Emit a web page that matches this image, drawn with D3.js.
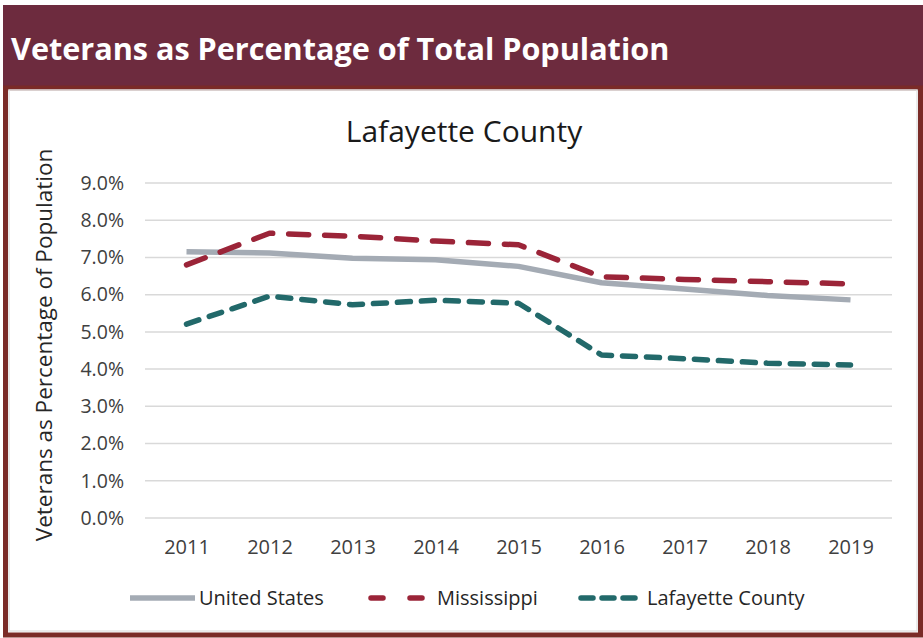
<!DOCTYPE html>
<meta charset="utf-8">
<style>
body { margin: 0; background: #fff; }
text { font-family: "Open Sans", Lato, sans-serif; }
.grid line { stroke: #d9d9d9; stroke-width: 1.5px; }
.axis text { fill: #404040; }
</style>
<svg width="923" height="638"></svg>
<script src="https://cdn.jsdelivr.net/npm/d3@7"></script>
<script>

var years = ["2011", "2012", "2013", "2014", "2015", "2016", "2017", "2018", "2019"];
var unitedStates = [7.15, 7.12, 6.98, 6.94, 6.76, 6.32, 6.15, 5.98, 5.86];
var mississippi = [6.80, 7.65, 7.57, 7.44, 7.34, 6.48, 6.41, 6.35, 6.29];
var lafayette = [5.21, 5.96, 5.73, 5.85, 5.77, 4.38, 4.28, 4.16, 4.11];
var yTicks = [0, 1, 2, 3, 4, 5, 6, 7, 8, 9];

var series = [
    {name: "United States", values: unitedStates, color: "#a4abb4", dash: null, legendX: 130},
    {name: "Mississippi", values: mississippi, color: "#9b2438", dash: "20,16", legendX: 368},
    {name: "Lafayette County", values: lafayette, color: "#22696a", dash: "13,11", legendX: 578}
];

var svg = d3.select("svg");

// banner + frame
svg.append("rect").attr("x", 3).attr("y", 5).attr("width", 920).attr("height", 83).attr("fill", "#6d2b3e");
svg.append("rect").attr("x", 5.5).attr("y", 88).attr("width", 915).attr("height", 547)
    .attr("fill", "#fff").attr("stroke", "#7a2b27").attr("stroke-width", 5);
svg.append("rect").attr("x", 9).attr("y", 90).attr("width", 908).attr("height", 541)
    .attr("fill", "none").attr("stroke", "#e4e4e4").attr("stroke-width", 1.5);

svg.append("text").attr("x", 11).attr("y", 60)
    .attr("fill", "#fff").attr("font-weight", "bold").attr("font-size", 30.6)
    .text("Veterans as Percentage of Total Population");

svg.append("text").attr("x", 464).attr("y", 142).attr("text-anchor", "middle")
    .attr("fill", "#1a1a1a").attr("font-size", 30)
    .text("Lafayette County");

var x = d3.scalePoint().domain(years).range([145, 892]).padding(0.5);
var y = d3.scaleLinear().domain([0, 9]).range([518, 183]);

svg.append("g").attr("class", "grid")
    .selectAll("line").data(yTicks).enter().append("line")
    .attr("x1", 145).attr("x2", 892)
    .attr("y1", function(d) { return y(d); })
    .attr("y2", function(d) { return y(d); });

var yAxis = svg.append("g").attr("class", "axis")
    .attr("transform", "translate(145,0)")
    .call(d3.axisLeft(y).tickValues(yTicks).tickSize(0).tickPadding(21)
        .tickFormat(function(d) { return d.toFixed(1) + "%"; }));
yAxis.select(".domain").remove();
yAxis.selectAll("text").attr("font-size", 19.5).attr("font-family", "'Open Sans', sans-serif");

var xAxis = svg.append("g").attr("class", "axis")
    .attr("transform", "translate(0,518)")
    .call(d3.axisBottom(x).tickSize(0).tickPadding(22));
xAxis.select(".domain").remove();
xAxis.selectAll("text").attr("font-size", 20).attr("font-family", "'Open Sans', sans-serif");

svg.append("text")
    .attr("transform", "translate(52,345) rotate(-90)")
    .attr("text-anchor", "middle").attr("fill", "#262626").attr("font-size", 22.5)
    .text("Veterans as Percentage of Population");

var line = d3.line()
    .x(function(d, i) { return x(years[i]); })
    .y(function(d) { return y(d); });

svg.append("g").selectAll("path").data(series).enter().append("path")
    .attr("d", function(d) { return line(d.values); })
    .attr("fill", "none")
    .attr("stroke", function(d) { return d.color; })
    .attr("stroke-width", 5.5)
    .attr("stroke-linecap", function(d) { return d.dash ? "round" : "butt"; })
    .attr("stroke-linejoin", "round")
    .attr("stroke-dasharray", function(d) { return d.dash; });

// legend
var legend = svg.append("g").selectAll("g").data(series).enter().append("g")
    .attr("transform", function(d) { return "translate(" + d.legendX + ",598)"; });
legend.append("line")
    .attr("x1", function(d) { return d.dash ? 3 : 0; })
    .attr("x2", function(d) { return d.dash ? 60 : 65; })
    .attr("stroke", function(d) { return d.color; })
    .attr("stroke-width", 5.5)
    .attr("stroke-linecap", function(d) { return d.dash ? "round" : "butt"; })
    .attr("stroke-dasharray", function(d) { return d.name == "Mississippi" ? "12,27" : d.dash ? "12,9" : null; });
legend.append("text").attr("x", 69).attr("y", 7)
    .attr("fill", "#262626").attr("font-size", 20)
    .text(function(d) { return d.name; });

</script>
